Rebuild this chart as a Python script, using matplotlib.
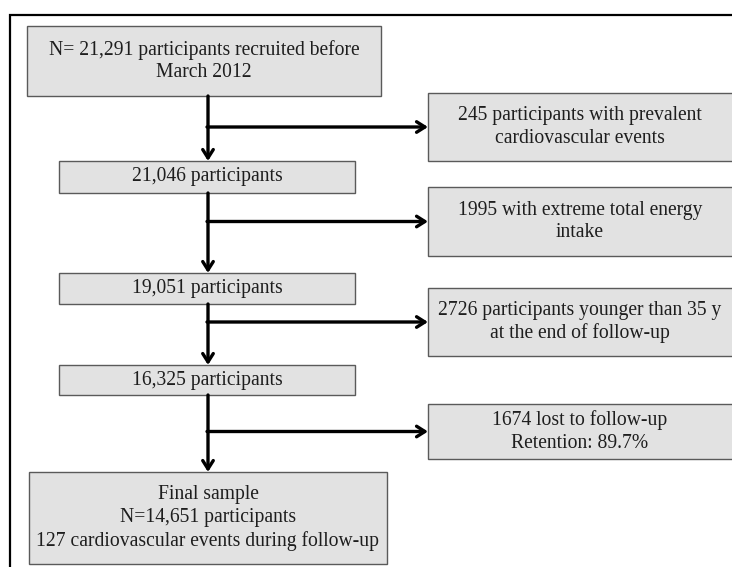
import matplotlib
matplotlib.use("Agg")
import matplotlib.pyplot as plt
from matplotlib.patches import Rectangle

# flow chart texts
main_labels = [
    "N= 21,291 participants recruited before\nMarch 2012",
    "21,046 participants",
    "19,051 participants",
    "16,325 participants",
    "Final sample\nN=14,651 participants\n127 cardiovascular events during follow-up",
]
excluded_labels = [
    "245 participants with prevalent\ncardiovascular events",
    "1995 with extreme total energy\nintake",
    "2726 participants younger than 35 y\nat the end of follow-up",
    "1674 lost to follow-up\nRetention: 89.7%",
]

# layout in pixel units (x0, x1, y0, y1)
main_boxes = [(27, 381, 26, 96), (59, 355, 161, 193), (59, 355, 273, 304),
              (59, 355, 365, 395), (29, 387, 472, 564)]
side_boxes = [(428, 734, 93, 161), (428, 734, 187, 256), (428, 734, 288, 356),
              (428, 734, 404, 459)]
trunk_x = 208

plt.rcParams['font.family'] = ['Liberation Serif', 'DejaVu Serif']
fig = plt.figure(figsize=(7.32, 5.67), dpi=100)
ax = fig.add_axes([0, 0, 1, 1])
ax.set_xlim(0, 732)
ax.set_ylim(567, 0)
ax.axis('off')

# outer frame (cut at right and bottom)
ax.plot([10, 10, 735], [570, 15, 15], color='black', lw=1.6, solid_joinstyle='miter')

def box(b, text):
    x0, x1, y0, y1 = b
    ax.add_patch(Rectangle((x0, y0), x1 - x0, y1 - y0, facecolor='#e2e2e2',
                           edgecolor='#5a5a5a', lw=1.0, zorder=2))
    ax.text((x0 + min(x1, 732)) / 2, (y0 + y1) / 2, text, ha='center', va='center',
            fontsize=14.1, color='#1e1e1e', linespacing=1.25, zorder=3)

for b, t in zip(main_boxes, main_labels):
    box(b, t)
for b, t in zip(side_boxes, excluded_labels):
    box(b, t)

arrow = dict(arrowstyle='->,head_length=0.6,head_width=0.38', color='black',
             lw=2.4, shrinkA=0, shrinkB=0)
for i in range(len(main_boxes) - 1):
    top = main_boxes[i][3]
    bottom = main_boxes[i + 1][2]
    ax.annotate('', xy=(trunk_x, bottom), xytext=(trunk_x, top), arrowprops=arrow)
    sb = side_boxes[i]
    ymid = (sb[2] + sb[3]) / 2
    ax.annotate('', xy=(sb[0], ymid), xytext=(trunk_x - 1, ymid), arrowprops=arrow)

fig.savefig('out.png', dpi=100)
